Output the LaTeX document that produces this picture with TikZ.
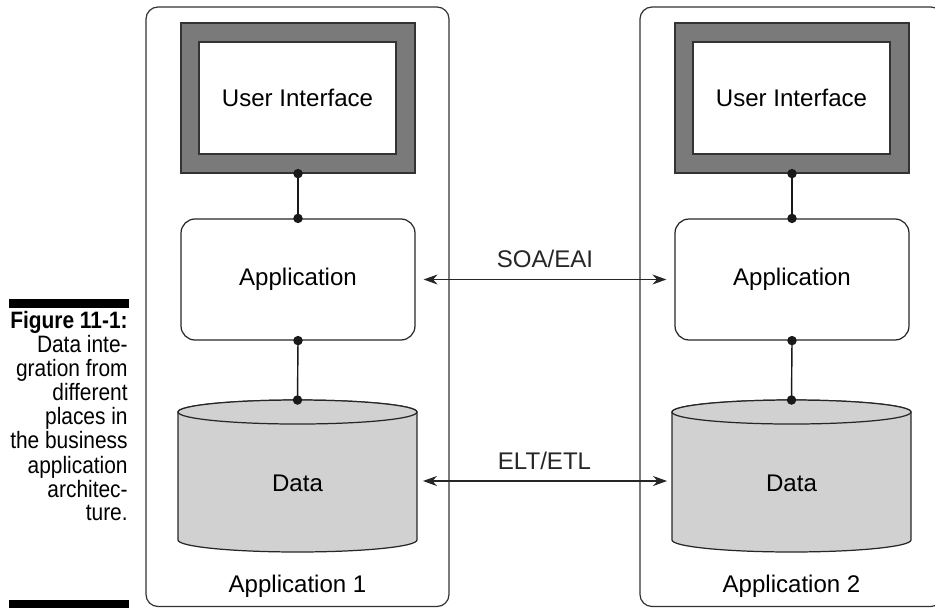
\documentclass[tikz,border=0pt]{standalone}
\usepackage{fontspec}
\setmainfont{Liberation Sans}
\usetikzlibrary{shapes.geometric, positioning, arrows.meta}

\begin{document}
\begin{tikzpicture}[
  x=0.02cm, y=-0.02cm,
  every node/.style={font=\fontsize{13.7}{16}\selectfont},
  panel/.style={draw=black!80, line width=0.7pt, rounded corners=0.24cm},
  uibox/.style={draw=black!80, line width=0.7pt, fill=black!52,
    minimum width=4.68cm, minimum height=3.0cm},
  uiin/.style={draw=black!80, line width=0.7pt, fill=white,
    minimum width=3.94cm, minimum height=2.24cm},
  appbox/.style={draw=black!85, line width=0.7pt, rounded corners=0.28cm,
    minimum width=4.68cm, minimum height=2.42cm},
  db/.style={inner sep=0, outer sep=0,
    minimum width=4.78cm, minimum height=3.04cm},
  dbshape/.style={draw=black!85, line width=0.7pt, fill=black!18},
  capt/.style={anchor=north east, inner sep=0, font=\normalsize},
  link/.style={line width=0.8pt, black!90},
  dot/.style={fill=black!90},
  arr/.style={{Stealth[length=2.8mm, width=2mm, inset=0.9mm]}-{Stealth[length=2.8mm, width=2mm, inset=0.9mm]},
    line width=0.6pt, black!85},
]
\useasboundingbox (0,0) rectangle (935,608);
\clip (0,0) rectangle (935,608);

%% caption at the left margin
\fill (9,299) rectangle (129,308);
\fill (9,600) rectangle (129,608);
\node[capt] (caption) at (128,311)
  {\scalebox{1.19}[1.35]{\fontsize{10}{9.7}\selectfont
   \begin{tabular}{@{}r@{}}
   \textbf{Figure 11-1:}\\Data inte-\\gration from\\different\\places in\\
   the business\\application\\architec-\\ture.
   \end{tabular}}};

%% panels
\draw[panel] (146,7) rectangle (449,606.5);
\draw[panel] (640,7) rectangle (943,606.5);

%% COLUMN 1 -- Application 1
\node[uibox] (ui1) at (298,98) {};
\node[uiin] (ui1in) at (297.5,98) {User Interface};
\node[appbox] (app1) at (298,279.5) {Application};
\node[db] (data1) at (297.5,476) {};
\path[dbshape] ([yshift=-0.24cm]data1.north west) -- ([yshift=0.24cm]data1.south west)
  arc[start angle=180, end angle=360, x radius=2.39cm, y radius=0.24cm]
  -- ([yshift=-0.24cm]data1.north east)
  arc[start angle=0, end angle=180, x radius=2.39cm, y radius=0.24cm] -- cycle;
\draw[dbshape] ([yshift=-0.24cm]data1.north) ellipse [x radius=2.39cm, y radius=0.24cm];
\node (data1lbl) at ([yshift=-0.14cm]data1.center) {Data};
\node (name1) at (297.5,586) {Application 1};

\draw[link] (ui1.south) -- (app1.north);
\draw[link] (app1.south) -- (data1.north);
\fill[dot] (ui1.south) circle (0.095cm);
\fill[dot] (app1.north) circle (0.095cm);
\fill[dot] (app1.south) circle (0.095cm);
\fill[dot] (data1.north) circle (0.095cm);

%% COLUMN 2 -- Application 2
\node[uibox] (ui2) at (792,98) {};
\node[uiin] (ui2in) at (791.5,98) {User Interface};
\node[appbox] (app2) at (792,279.5) {Application};
\node[db] (data2) at (791.5,476) {};
\path[dbshape] ([yshift=-0.24cm]data2.north west) -- ([yshift=0.24cm]data2.south west)
  arc[start angle=180, end angle=360, x radius=2.39cm, y radius=0.24cm]
  -- ([yshift=-0.24cm]data2.north east)
  arc[start angle=0, end angle=180, x radius=2.39cm, y radius=0.24cm] -- cycle;
\draw[dbshape] ([yshift=-0.24cm]data2.north) ellipse [x radius=2.39cm, y radius=0.24cm];
\node (data2lbl) at ([yshift=-0.14cm]data2.center) {Data};
\node (name2) at (791.5,586) {Application 2};

\draw[link] (ui2.south) -- (app2.north);
\draw[link] (app2.south) -- (data2.north);
\fill[dot] (ui2.south) circle (0.095cm);
\fill[dot] (app2.north) circle (0.095cm);
\fill[dot] (app2.south) circle (0.095cm);
\fill[dot] (data2.north) circle (0.095cm);

%% integration links between the two applications
\draw[arr, shorten <=0.16cm, shorten >=0.16cm]
  (app1.east) -- node[above=3pt] (soa) {SOA/EAI} (app2.west);
\draw[arr, shorten <=0.12cm, shorten >=0.1cm]
  ([yshift=-0.1cm]data1.east) -- node[above=3pt] (elt) {ELT/ETL}
  ([yshift=-0.1cm]data2.west);

\end{tikzpicture}
\end{document}
